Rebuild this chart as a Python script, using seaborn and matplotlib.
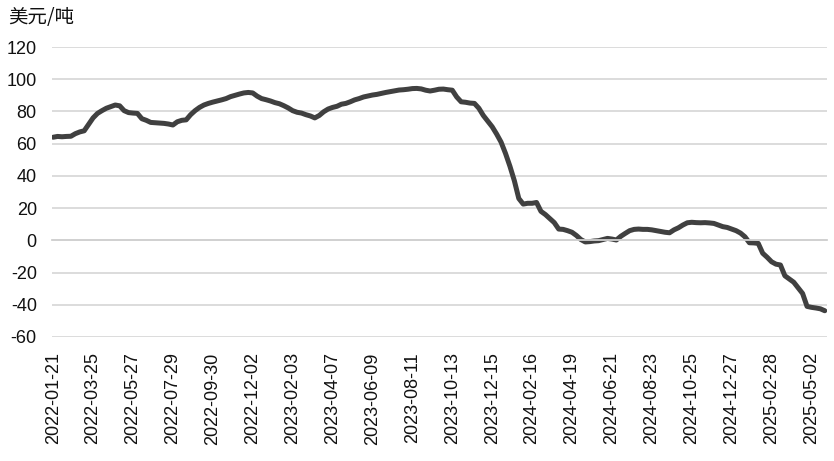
import numpy as np
import pandas as pd
import matplotlib
matplotlib.use('Agg')
import matplotlib.pyplot as plt
import seaborn as sns

# weekly spread, USD/t
values = [
    64, 64.5, 64.3, 64.5, 64.6, 66.2, 67.3, 68, 72, 76,
    78.8, 80.5, 82, 83, 84, 83.5, 80.5, 79.3, 79, 78.8,
    75.5, 74.5, 73.2, 73, 72.8, 72.6, 72.2, 71.6, 73.6, 74.5,
    74.8, 78, 80.5, 82.5, 84, 85, 85.8, 86.5, 87.2, 88,
    89.2, 90, 90.8, 91.5, 91.8, 91.5, 89.5, 88, 87.3, 86.5,
    85.5, 84.8, 83.6, 82.2, 80.5, 79.5, 79, 78, 77.2, 76,
    77.5, 79.8, 81.5, 82.5, 83.2, 84.5, 85, 86, 87.2, 88,
    89, 89.6, 90.2, 90.6, 91.2, 91.8, 92.3, 92.8, 93.3, 93.5,
    93.8, 94.2, 94.3, 94, 93.2, 92.7, 93.2, 93.8, 93.9, 93.5,
    93.2, 89, 86, 85.7, 85.2, 85, 82, 77.5, 74, 70.5,
    66, 61, 54, 46, 37, 26, 22.5, 23, 23, 23.5,
    18, 16, 13.5, 11, 7, 6.8, 6, 5, 3, 0.5,
    -1, -0.8, -0.4, -0.2, 0.5, 1.2, 0.8, 0.2, 2.5, 4.3,
    6, 6.8, 7, 6.8, 6.8, 6.5, 6, 5.5, 5, 4.7,
    6.5, 7.8, 9.5, 10.9, 11.2, 11, 10.9, 11, 10.8, 10.5,
    9.5, 8.5, 8, 7, 6, 4.5, 2.2, -1.5, -1.6, -1.9,
    -8, -10.5, -13.3, -14.8, -15.3, -22, -24, -26, -29.5, -33,
    -41, -41.6, -42, -42.5, -43.7,
]
dates = pd.date_range('2022-01-21', periods=len(values), freq='7D')
label_step = 9
y_ticks = [-60, -40, -20, 0, 20, 40, 60, 80, 100, 120]

df = pd.DataFrame({'idx': np.arange(len(values)), 'value': values})

sns.set_style('white')
plt.rcParams['font.family'] = ['Liberation Sans', 'DejaVu Sans']
plt.rcParams['axes.unicode_minus'] = False

fig = plt.figure(figsize=(8.34, 4.61), dpi=100)
ax = fig.add_axes([0.0624, 0.269, 0.9292, 0.629])

sns.lineplot(data=df, x='idx', y='value', ax=ax, color='#404040', linewidth=3.6)

ax.set_ylim(-60, 120)
ax.set_yticks(y_ticks)
ax.set_xlim(-0.25, len(values) - 0.5)
ax.grid(axis='y', color='#d9d9d9', linewidth=1.3)
ax.set_axisbelow(True)
for s in ['top', 'right', 'left']:
    ax.spines[s].set_visible(False)
ax.spines['bottom'].set_position(('data', 0))
ax.spines['bottom'].set_color('#d0d0d0')
ax.spines['bottom'].set_linewidth(1.3)

tick_pos = list(range(0, len(values), label_step))
tick_lab = [dates[i].strftime('%Y-%m-%d') for i in tick_pos]
ax.set_xticks(tick_pos)
ax.tick_params(axis='x', direction='out', length=5, width=1.3, color='#c8c8c8', labelbottom=False)
ax.tick_params(axis='y', length=0, pad=11, labelsize=13, labelcolor='#111111')
ax.set_xlabel('')
ax.set_ylabel('')

sec = ax.secondary_xaxis('bottom')
sec.set_xticks(tick_pos, tick_lab, rotation=90)
sec.tick_params(length=0, pad=11, labelsize=13, labelcolor='#111111')
sec.spines['bottom'].set_visible(False)

fig.text(0.01, 0.961, '美元/吨', fontsize=14, color='#111111', va='center', ha='left',
         family=['Noto Sans CJK SC', 'DejaVu Sans'])

fig.savefig('out.png', dpi=100, facecolor='white')
